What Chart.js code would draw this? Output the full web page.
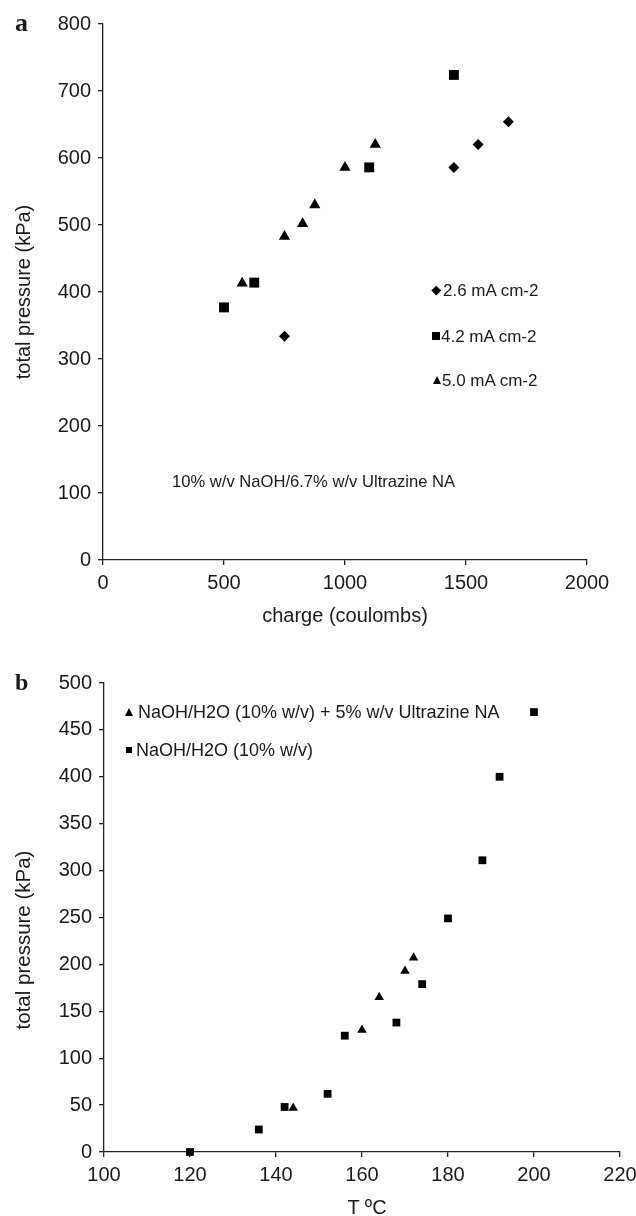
<!DOCTYPE html>
<html>
<head>
<meta charset="utf-8">
<script src="https://cdn.jsdelivr.net/npm/chart.js@4.4.1/dist/chart.umd.min.js"></script>
<style>
  html, body { margin: 0; padding: 0; background: #fff; }
  body { position: relative; width: 636px; height: 1216px; overflow: hidden;
         font-family: "Liberation Sans", Arial, sans-serif; color: #1a1a1a; }
  .wrap { position: absolute; left: 0; width: 660px; }
  #wrapA { top: 0; height: 650px; }
  #wrapB { top: 620px; height: 596px; }
  .txt { position: absolute; white-space: nowrap; line-height: 1; }
  .rot { transform: translate(-50%, -50%) rotate(-90deg); }
  .panel { font-family: "Liberation Serif", "Times New Roman", serif; font-weight: bold; }
  .leg { position: absolute; white-space: nowrap; line-height: 1; }
  .mk { position: absolute; background: #000; }
  .tri { position: absolute; width: 0; height: 0; border-style: solid; border-color: transparent transparent #000 transparent; }
</style>
</head>
<body>
<div class="wrap" id="wrapA"><canvas id="chartA" width="660" height="650"></canvas></div>
<div class="wrap" id="wrapB"><canvas id="chartB" width="660" height="596"></canvas></div>

<div class="txt panel" style="left:15px; top:10px; font-size:26px;">a</div>
<div class="txt panel" style="left:15px; top:670px; font-size:24px;">b</div>

<div class="txt rot" style="left:23px; top:292px; font-size:20px;">total pressure (kPa)</div>
<div class="txt" style="left:345px; top:605px; font-size:20px; transform:translateX(-50%);">charge (coulombs)</div>
<div class="txt" style="left:172px; top:474px; font-size:16.6px;">10% w/v NaOH/6.7% w/v Ultrazine NA</div>

<div class="txt rot" style="left:23px; top:940px; font-size:20.5px;">total pressure (kPa)</div>
<div class="txt" style="left:367px; top:1197px; font-size:20px; transform:translateX(-50%);">T ºC</div>

<div id="legendA"></div>
<div id="legendB"></div>

<script>
// panel a: pressure vs charge
const chargeTicks = [0, 500, 1000, 1500, 2000];
const pressureTicksA = [0, 100, 200, 300, 400, 500, 600, 700, 800];
const seriesNamesA = ["2.6 mA cm-2", "4.2 mA cm-2", "5.0 mA cm-2"];
const charge26 = [750, 1450, 1550, 1675];
const pressure26 = [334, 586, 620, 654];
const charge42 = [500, 625, 1100, 1450];
const pressure42 = [377, 414, 586, 724];
const charge50 = [575, 750, 825, 875, 1000, 1125];
const pressure50 = [413, 483, 502, 530, 586, 620];

// panel b: pressure vs temperature
const tempTicks = [100, 120, 140, 160, 180, 200, 220];
const pressureTicksB = [0, 50, 100, 150, 200, 250, 300, 350, 400, 450, 500];
const seriesNamesB = ["NaOH/H2O (10% w/v) + 5% w/v Ultrazine NA", "NaOH/H2O (10% w/v)"];
const tempUltra = [144, 160, 164, 170, 172];
const pressureUltra = [47, 130, 165, 193, 207];
const tempPlain = [120, 136, 142, 152, 156, 168, 174, 180, 188, 192, 200];
const pressurePlain = [0, 24, 48, 62, 124, 138, 179, 249, 311, 400, 469];

const FONT = "'Liberation Sans', Arial, sans-serif";
const INK = "#1a1a1a";

function pts(xs, ys) {
  return xs.map((x, i) => ({ x: x, y: ys[i] }));
}

function axis(min, max, tickList, fitSize, horizontal) {
  return {
    type: "linear",
    min: min,
    max: max,
    afterBuildTicks: s => { s.ticks = tickList.map(v => ({ value: v })); },
    afterFit: s => { if (horizontal) s.height = fitSize; else s.width = fitSize; },
    grid: { display: true, drawOnChartArea: false, drawTicks: true, tickLength: 5, color: "#222", lineWidth: 1.3 },
    border: { display: true, color: "#222", width: 1.3 },
    ticks: {
      autoSkip: false, maxRotation: 0, color: INK,
      padding: horizontal ? 6 : 7,
      font: { family: FONT, size: 20 },
      callback: v => String(v)
    }
  };
}

function scatter(id, datasets, xs, ys, padding) {
  return new Chart(document.getElementById(id), {
    type: "scatter",
    data: { datasets: datasets },
    options: {
      responsive: false,
      animation: false,
      clip: false,
      layout: { padding: padding },
      plugins: { legend: { display: false }, tooltip: { enabled: false } },
      scales: { x: xs, y: ys }
    }
  });
}

function ds(label, xs, ys, style, r) {
  return {
    label: label,
    data: pts(xs, ys),
    pointStyle: style,
    pointRadius: r,
    pointBackgroundColor: "#000",
    pointBorderColor: "#000",
    pointBorderWidth: 0,
    showLine: false
  };
}

scatter("chartA", [
  ds(seriesNamesA[0], charge26, pressure26, "rectRot", 5.5),
  ds(seriesNamesA[1], charge42, pressure42, "rect", 7),
  ds(seriesNamesA[2], charge50, pressure50, "triangle", 6.5)
], axis(0, 2000, chargeTicks, 90, true), axis(0, 800, pressureTicksA, 103, false),
  { left: 0, top: 24, right: 73, bottom: 0 });

scatter("chartB", [
  ds(seriesNamesB[0], tempUltra, pressureUltra, "triangle", 5.5),
  ds(seriesNamesB[1], tempPlain, pressurePlain, "rect", 5.5)
], axis(100, 220, tempTicks, 64, true), axis(0, 500, pressureTicksB, 104, false),
  { left: 0, top: 63, right: 40, bottom: 0 });

// legends placed inside the plots, built from the series names
function marker(kind, cx, cy, size) {
  const el = document.createElement("div");
  if (kind === "triangle") {
    el.className = "tri";
    el.style.borderWidth = "0 " + (size / 2) + "px " + size + "px " + (size / 2) + "px";
    el.style.left = (cx - size / 2) + "px";
    el.style.top = (cy - size / 2) + "px";
  } else {
    el.className = "mk";
    el.style.width = size + "px";
    el.style.height = size + "px";
    el.style.left = (cx - size / 2) + "px";
    el.style.top = (cy - size / 2) + "px";
    if (kind === "diamond") el.style.transform = "rotate(45deg)";
  }
  return el;
}

function legend(id, rows) {
  const box = document.getElementById(id);
  rows.forEach(r => {
    box.appendChild(marker(r.kind, r.mx, r.cy, r.size));
    const t = document.createElement("div");
    t.className = "leg";
    t.style.left = r.tx + "px";
    t.style.top = (r.cy + r.fs * 0.36 - r.fs * 0.8465) + "px";
    t.style.fontSize = r.fs + "px";
    t.textContent = r.text;
    box.appendChild(t);
  });
}

legend("legendA", [
  { kind: "diamond", text: seriesNamesA[0], mx: 436, cy: 290, size: 6.5, tx: 443, fs: 17 },
  { kind: "square", text: seriesNamesA[1], mx: 436, cy: 336, size: 8, tx: 441, fs: 17 },
  { kind: "triangle", text: seriesNamesA[2], mx: 437, cy: 380, size: 8, tx: 442, fs: 17 }
]);
legend("legendB", [
  { kind: "triangle", text: seriesNamesB[0], mx: 129, cy: 712, size: 8, tx: 138, fs: 18 },
  { kind: "square", text: seriesNamesB[1], mx: 129, cy: 750, size: 6.5, tx: 136, fs: 18 }
]);
</script>
</body>
</html>
